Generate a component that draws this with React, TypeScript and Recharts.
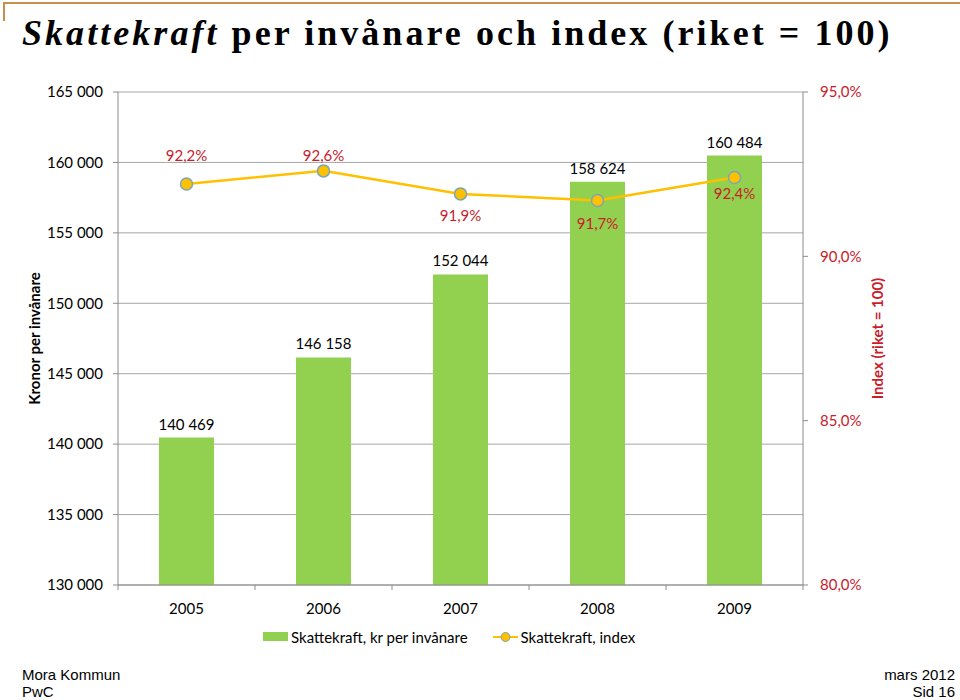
import React from 'react';
import { ComposedChart, Bar, Line, XAxis, YAxis, CartesianGrid, LabelList, Legend } from 'recharts';

const years = ['2005', '2006', '2007', '2008', '2009'];
const kronorPerInvanare = [140469, 146158, 152044, 158624, 160484];
const indexRiket = [92.2, 92.6, 91.9, 91.7, 92.4];
const leftTicks = [130000, 135000, 140000, 145000, 150000, 155000, 160000, 165000];
const rightTicks = [80, 85, 90, 95];

const barName = 'Skattekraft, kr per invånare';
const lineName = 'Skattekraft, index';

// label placement (style only): vertical shift of each index label relative to its point
const indexLabelDy = [-29, -16, 21, 23, 16];

const data = years.map((year, i) => ({ year, kr: kronorPerInvanare[i], idx: indexRiket[i] }));

const FONT = 'Lato, "Open Sans", sans-serif';
const RED = '#C8202A';
const GREEN = '#92D050';
const GOLD = '#FFC000';
const GRID = '#A6A6A6';
const AXIS = '#8C8C8C';

const fmtKr = (v: number) => {
  const s = String(Math.round(v));
  return s.replace(/\B(?=(\d{3})+(?!\d))/g, ' ');
};
const fmtPct = (v: number) => v.toFixed(1).replace('.', ',') + '%';

const YearTick = (props: any) => {
  const { x, y, payload, index, visibleTicksCount } = props;
  const half = payload && typeof payload.offset === 'number' && payload.offset > 0 ? payload.offset : 68.5;
  const axisY = y - 14;
  return (
    <g>
      <line x1={x - half} x2={x - half} y1={axisY} y2={axisY + 5} stroke={AXIS} />
      {index === visibleTicksCount - 1 && (
        <line x1={x + half} x2={x + half} y1={axisY} y2={axisY + 5} stroke={AXIS} />
      )}
      <text x={x} y={axisY + 23} textAnchor="middle" dominantBaseline="central" fill="#000" fontSize={15} fontFamily={FONT}>
        {payload.value}
      </text>
    </g>
  );
};

const IndexLabel = (props: any) => {
  const { x, y, value, index } = props;
  return (
    <text x={x} y={y + indexLabelDy[index]} textAnchor="middle" dominantBaseline="central" fill={RED} fontSize={15} fontFamily={FONT}>
      {fmtPct(value)}
    </text>
  );
};

const LegendContent = () => (
  <div style={{ display: 'flex', justifyContent: 'flex-start', alignItems: 'center', fontFamily: FONT, fontSize: 15, color: '#000', paddingLeft: 263 }}>
    <svg width={26} height={12} style={{ marginRight: 2 }}>
      <rect x={0} y={1} width={25} height={9} fill={GREEN} />
    </svg>
    <span>{barName}</span>
    <svg width={26} height={12} style={{ marginLeft: 25, marginRight: 2 }}>
      <line x1={0} x2={25} y1={6} y2={6} stroke={GOLD} strokeWidth={2} />
      <circle cx={12.5} cy={6} r={4.5} fill={GOLD} stroke="#7BA7B5" strokeWidth={1} />
    </svg>
    <span>{lineName}</span>
  </div>
);

export default function App() {
  return (
    <div style={{ position: 'absolute', left: 0, top: 0, width: 960, height: 700, background: '#fff', overflow: 'hidden' }}>
      <div style={{ position: 'absolute', left: 3, top: 2, width: 957, height: 0, borderTop: '2px solid #C8904A' }} />
      <div style={{ position: 'absolute', left: 3, top: 2, width: 0, height: 19, borderLeft: '2px solid #C8904A' }} />
      <div
        style={{
          position: 'absolute', left: 22, top: 11, fontFamily: '"Liberation Serif", "DejaVu Serif", serif', fontWeight: 700,
          fontSize: 36, letterSpacing: 3.05, whiteSpace: 'nowrap', color: '#000', lineHeight: '44px',
        }}
      >
        <i>Skattekraft</i> per invånare och index (riket = 100)
      </div>
      <div style={{ position: 'absolute', left: 0, top: 0 }}>
        <ComposedChart width={960} height={700} data={data} margin={{ top: 92, right: 0, bottom: 0, left: 0 }}>
          <CartesianGrid yAxisId="left" vertical={false} stroke={GRID} horizontalValues={leftTicks} />
          <XAxis
            dataKey="year"
            height={115}
            tick={<YearTick />}
            tickLine={false}
            tickSize={0}
            tickMargin={14}
            axisLine={{ stroke: AXIS }}
            interval={0}
          />
          <YAxis
            yAxisId="left"
            width={118}
            domain={[130000, 165000]}
            ticks={leftTicks}
            interval={0}
            tickFormatter={fmtKr}
            tickSize={5}
            tickMargin={10}
            tickLine={{ stroke: AXIS }}
            axisLine={{ stroke: AXIS }}
            tick={{ fill: '#000', fontSize: 15, fontFamily: FONT }}
            allowDataOverflow
            label={{
              value: 'Kronor per invånare', angle: -90, position: 'insideLeft', offset: 35,
              style: { textAnchor: 'middle', fontWeight: 700, fontSize: 15, fill: '#000', fontFamily: FONT },
            }}
          />
          <YAxis
            yAxisId="right"
            orientation="right"
            width={157}
            domain={[80, 95]}
            ticks={rightTicks}
            interval={0}
            tickFormatter={fmtPct}
            tickSize={5}
            tickMargin={12}
            tickLine={{ stroke: AXIS }}
            axisLine={{ stroke: AXIS }}
            tick={{ fill: RED, fontSize: 15, fontFamily: FONT, textAnchor: 'start' }}
            allowDataOverflow
            label={{
              value: 'Index (riket = 100)', angle: -90, position: 'insideLeft', offset: 75,
              style: { textAnchor: 'middle', fontWeight: 700, fontSize: 15, fill: RED, fontFamily: FONT },
            }}
          />
          <Legend
            verticalAlign="middle"
            align="center"
            layout="horizontal"
            wrapperStyle={{ top: 628, left: 0, width: 960 }}
            content={<LegendContent />}
          />
          <Bar yAxisId="left" dataKey="kr" name={barName} fill={GREEN} barSize={55} isAnimationActive={false}>
            <LabelList dataKey="kr" position="top" offset={8} formatter={(v: any) => fmtKr(Number(v))} fill="#000" fontSize={15} fontFamily={FONT} />
          </Bar>
          <Line
            yAxisId="right"
            dataKey="idx"
            name={lineName}
            type="linear"
            stroke={GOLD}
            strokeWidth={2.5}
            dot={{ r: 6, fill: GOLD, stroke: '#7BA7B5', strokeWidth: 1.5 }}
            activeDot={false}
            isAnimationActive={false}
          >
            <LabelList dataKey="idx" content={<IndexLabel />} />
          </Line>
        </ComposedChart>
      </div>
      <div style={{ position: 'absolute', left: 22, top: 666, fontFamily: '"Liberation Sans", Arial, sans-serif', fontSize: 15, lineHeight: '17px', color: '#000' }}>
        <div>Mora Kommun</div>
        <div>PwC</div>
      </div>
      <div style={{ position: 'absolute', right: 5, top: 666, textAlign: 'right', fontFamily: '"Liberation Sans", Arial, sans-serif', fontSize: 15, lineHeight: '17px', color: '#000' }}>
        <div>mars 2012</div>
        <div>Sid 16</div>
      </div>
    </div>
  );
}
